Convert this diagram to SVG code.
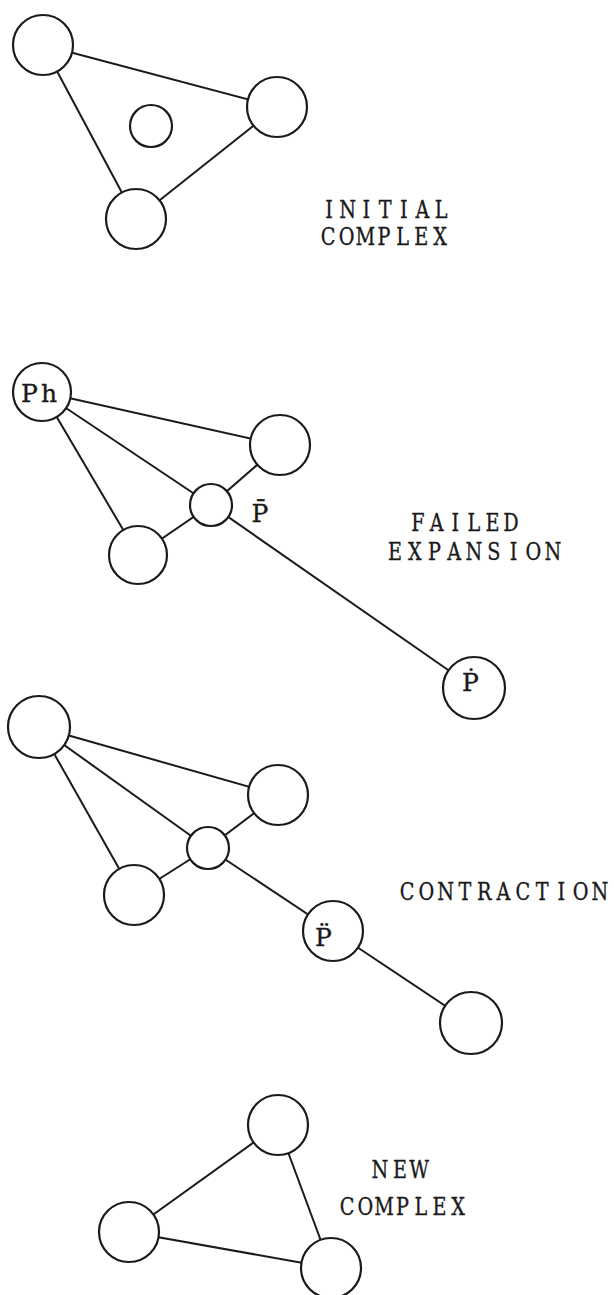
<svg xmlns="http://www.w3.org/2000/svg" width="614" height="1295" viewBox="0 0 614 1295">
  <style>
    .edge { stroke: #1a1a1a; stroke-width: 2; fill: none; }
    .node { stroke: #1a1a1a; stroke-width: 2.2; fill: #ffffff; }
    /* typewriter-style captions: narrowed letters, each centred on a fixed pitch */
    .cap { font-family: "DejaVu Serif", "Liberation Serif", serif; font-size: 24px; text-anchor: middle; fill: #1a1a1a; stroke: #1a1a1a; stroke-width: 0.35; }
    .lbl { font-family: "DejaVu Serif", "Liberation Serif", serif; font-size: 25px; text-anchor: middle; fill: #1a1a1a; stroke: #1a1a1a; stroke-width: 0.35; }
  </style>
  <rect width="614" height="1295" fill="#ffffff"/>

  <!-- connectors, drawn centre to centre underneath the filled circles -->
  <g id="connectors">
    <!-- initial complex -->
    <line class="edge" x1="43" y1="45" x2="277" y2="107"/>
    <line class="edge" x1="43" y1="45" x2="136" y2="219"/>
    <line class="edge" x1="277" y1="107" x2="136" y2="219"/>
    <!-- failed expansion -->
    <line class="edge" x1="42" y1="392" x2="280" y2="445"/>
    <line class="edge" x1="42" y1="392" x2="211" y2="505"/>
    <line class="edge" x1="42" y1="392" x2="138" y2="555"/>
    <line class="edge" x1="280" y1="445" x2="211" y2="505"/>
    <line class="edge" x1="211" y1="505" x2="138" y2="555"/>
    <line class="edge" x1="211" y1="505" x2="474" y2="688"/>
    <!-- contraction -->
    <line class="edge" x1="39" y1="727" x2="278" y2="795"/>
    <line class="edge" x1="39" y1="727" x2="208" y2="848"/>
    <line class="edge" x1="39" y1="727" x2="134" y2="895"/>
    <line class="edge" x1="278" y1="795" x2="208" y2="848"/>
    <line class="edge" x1="208" y1="848" x2="134" y2="895"/>
    <line class="edge" x1="208" y1="848" x2="333" y2="931"/>
    <line class="edge" x1="333" y1="931" x2="471" y2="1023"/>
    <!-- new complex -->
    <line class="edge" x1="278" y1="1125" x2="129" y2="1232"/>
    <line class="edge" x1="278" y1="1125" x2="331" y2="1268"/>
    <line class="edge" x1="129" y1="1232" x2="331" y2="1268"/>
  </g>

  <!-- initial complex -->
  <g id="initial-a"><circle class="node" cx="43" cy="45" r="30"/></g>
  <g id="initial-b"><circle class="node" cx="277" cy="107" r="30"/></g>
  <g id="initial-c"><circle class="node" cx="136" cy="219" r="30"/></g>
  <g id="initial-centroid"><circle class="node" cx="151" cy="126" r="21"/></g>
  <g id="label-initial" transform="scale(0.8 1)">
    <text class="cap" x="411.25 434.625 458 481.375 504.75 528.125 551.5" y="218">INITIAL</text>
    <text class="cap" x="410 433.375 456.625 480 503.375 526.625 550" y="245">COMPLEX</text>
  </g>

  <!-- failed expansion -->
  <g id="expansion-ph">
    <circle class="node" cx="42" cy="392" r="29"/>
    <text class="lbl" x="29.5 49" y="402">Ph</text>
  </g>
  <g id="expansion-b"><circle class="node" cx="280" cy="445" r="30"/></g>
  <g id="expansion-c"><circle class="node" cx="138" cy="555" r="29"/></g>
  <g id="expansion-centroid">
    <circle class="node" cx="211" cy="505" r="21"/>
    <text class="lbl" x="260" y="522">P&#x304;</text>
  </g>
  <g id="expansion-point">
    <circle class="node" cx="474" cy="688" r="31"/>
    <text class="lbl" x="470.5" y="691">&#x1E56;</text>
  </g>
  <g id="label-expansion" transform="scale(0.8 1)">
    <text class="cap" x="522.5 545.75 569 592.25 615.5 638.75" y="531">FAILED</text>
    <text class="cap" x="493.75 518.4375 543.125 567.8125 592.5 617.1875 641.875 666.5625 691.25" y="560">EXPANSION</text>
  </g>

  <!-- contraction -->
  <g id="contraction-a"><circle class="node" cx="39" cy="727" r="31"/></g>
  <g id="contraction-b"><circle class="node" cx="278" cy="795" r="30"/></g>
  <g id="contraction-c"><circle class="node" cx="134" cy="895" r="30"/></g>
  <g id="contraction-centroid"><circle class="node" cx="208" cy="848" r="21"/></g>
  <g id="contraction-point">
    <circle class="node" cx="333" cy="931" r="30"/>
    <text class="lbl" x="323.5" y="946">P&#x308;</text>
  </g>
  <g id="contraction-d"><circle class="node" cx="471" cy="1023" r="31"/></g>
  <g id="label-contraction" transform="scale(0.8 1)">
    <text class="cap" x="508.75 532.875 557 581.125 605.25 629.375 653.5 677.625 701.75 725.875 750" y="900">CONTRACTION</text>
  </g>

  <!-- new complex -->
  <g id="new-a"><circle class="node" cx="278" cy="1125" r="30"/></g>
  <g id="new-b"><circle class="node" cx="129" cy="1232" r="30"/></g>
  <g id="new-c"><circle class="node" cx="331" cy="1268" r="30"/></g>
  <g id="label-new" transform="scale(0.8 1)">
    <text class="cap" x="475 500 523.75" y="1178">NEW</text>
    <text class="cap" x="433.75 456.875 480 503.125 526.25 549.375 572.5" y="1215">COMPLEX</text>
  </g>
</svg>
